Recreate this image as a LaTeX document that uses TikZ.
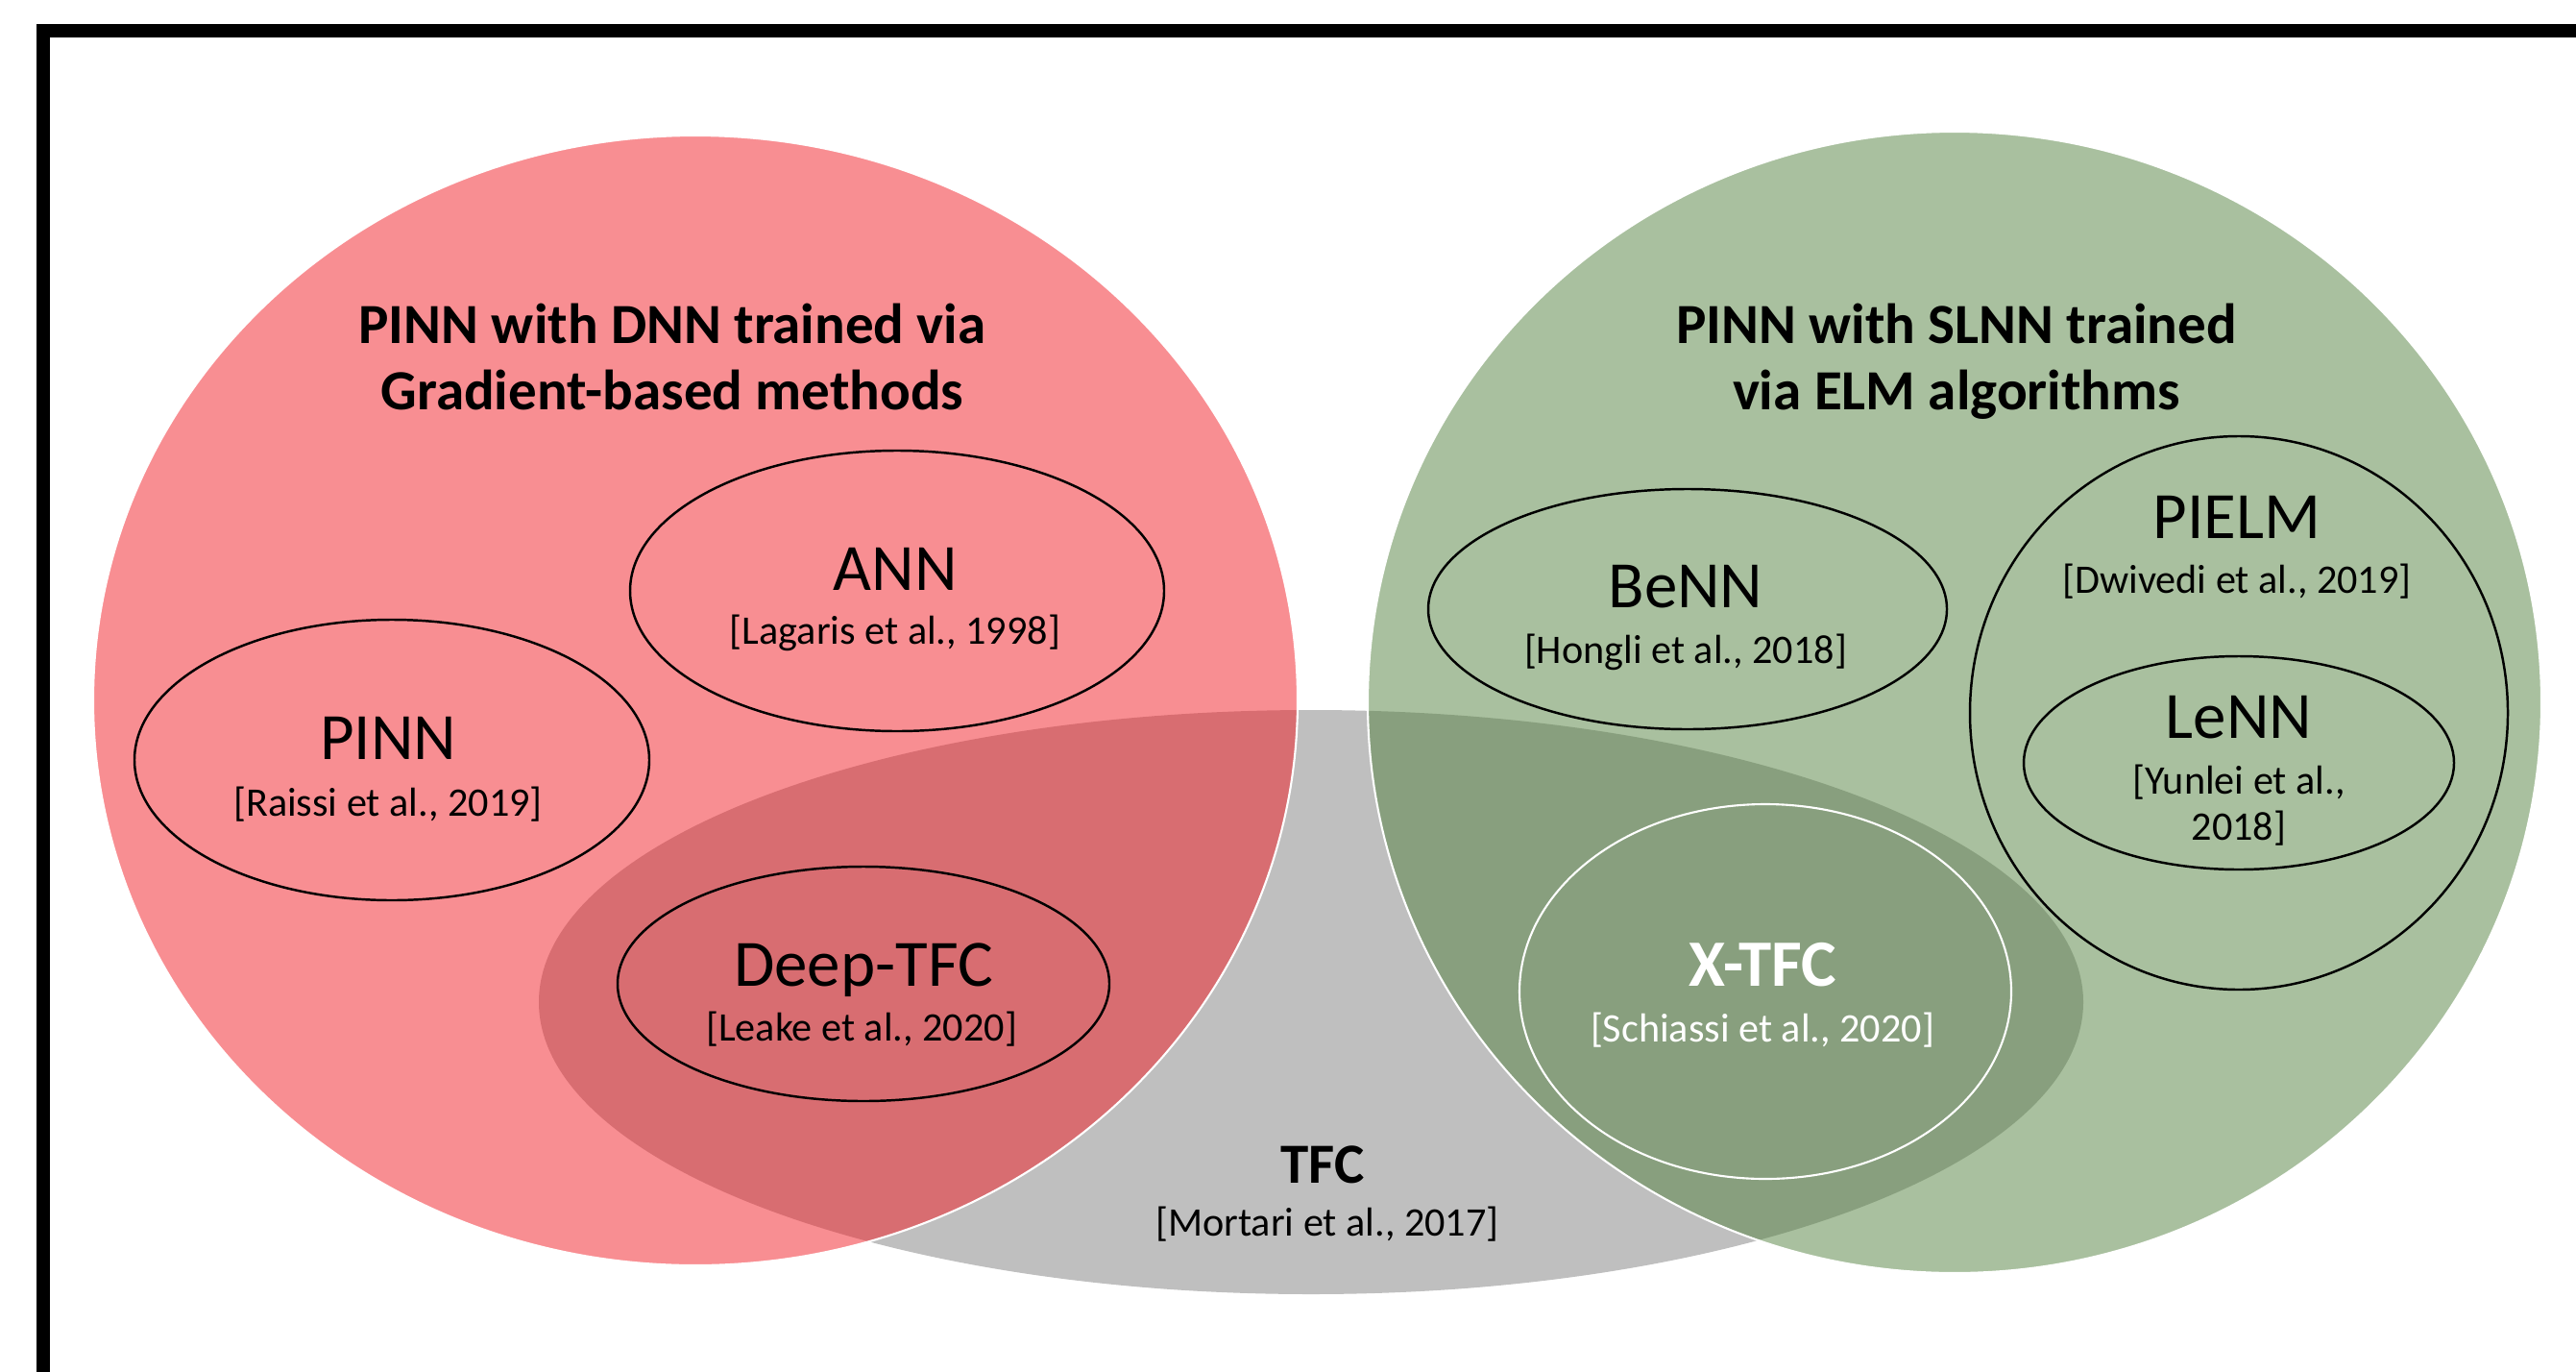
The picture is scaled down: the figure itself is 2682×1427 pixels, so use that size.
\documentclass[tikz,border=0pt]{standalone}
\usepackage{fontspec}
\setmainfont{Carlito}
\usetikzlibrary{positioning}

\definecolor{pinnred}{RGB}{241,29,37}
\definecolor{elmgreen}{RGB}{83,129,63}
\definecolor{tfcgray}{RGB}{191,191,191}

\begin{document}
\begin{tikzpicture}[x=0.01cm, y=-0.01cm,
    family/.style={fill opacity=0.5, draw=white, line width=0.6pt},
    method/.style={draw=black, line width=0.7pt},
    heading/.style={font=\fontsize{16.8}{19.6}\selectfont\bfseries, anchor=base, inner sep=0pt},
    label/.style={font=\fontsize{19.6}{23.5}\selectfont, anchor=base, inner sep=0pt},
    boldlabel/.style={label, font=\fontsize{19.6}{23.5}\selectfont\bfseries, text=white},
    cite/.style={font=\fontsize{12}{14}\selectfont, anchor=base, inner sep=0pt}]

  \useasboundingbox (0,0) rectangle (2682,1427);
  \clip (0,0) rectangle (2682,1427);

  % frame
  \draw[line width=0.14cm] (45,1500) -- (45,32) -- (2800,32);

  % the three families
  \fill[tfcgray] (1365,1043) ellipse [x radius=804, y radius=304];
  \draw[family, fill=pinnred] (724,729) ellipse [x radius=627, y radius=588];
  \draw[family, fill=elmgreen] (2035,731) ellipse [x radius=611, y radius=594];

  % single methods
  \draw[method] (934,615) ellipse [x radius=278, y radius=146];  % ANN
  \draw[method] (408,791) ellipse [x radius=268, y radius=146];  % PINN
  \draw[method] (899,1024) ellipse [x radius=256, y radius=122]; % Deep-TFC
  \draw[method] (1757,634) ellipse [x radius=270, y radius=125]; % BeNN
  \draw[method] (2331,742) ellipse [x radius=280, y radius=288]; % PIELM
  \draw[method] (2331,794) ellipse [x radius=224, y radius=111]; % LeNN
  \draw[method, draw=white, line width=0.6pt] (1838,1032) ellipse [x radius=256, y radius=195]; % X-TFC

  % headings
  \node[heading] (dnn1) at (700,357) {PINN with DNN trained via};
  \node[heading] (dnn2) at (700,426) {Gradient-based methods};
  \node[heading] (elm1) at (2037,357) {PINN with SLNN trained};
  \node[heading] (elm2) at (2037,426) {via ELM algorithms};

  % labels
  \node[label] (ann) at (932,614) {ANN};
  \node[cite] (annref) at (932,670) {[Lagaris et al., 1998]};
  \node[label] (pinn) at (404,790) {PINN};
  \node[cite] (pinnref) at (404,849) {[Raissi et al., 2019]};
  \node[label] (deeptfc) at (899,1026) {Deep-TFC};
  \node[cite] (deeptfcref) at (897,1083) {[Leake et al., 2020]};
  \node[label] (benn) at (1755,632) {BeNN};
  \node[cite] (bennref) at (1755,690) {[Hongli et al., 2018]};
  \node[label] (pielm) at (2329,560) {PIELM};
  \node[cite] (pielmref) at (2329,617) {[Dwivedi et al., 2019]};
  \node[label] (lenn) at (2331,768) {LeNN};
  \node[cite] (lennref1) at (2331,826) {[Yunlei et al.,};
  \node[cite] (lennref2) at (2331,874) {2018]};
  \node[boldlabel] (xtfc) at (1835,1026) {X-TFC};
  \node[cite, text=white] (xtfcref) at (1835,1084) {[Schiassi et al., 2020]};
  \node[heading] (tfc) at (1377,1231) {TFC};
  \node[cite] (tfcref) at (1382,1286) {[Mortari et al., 2017]};
\end{tikzpicture}
\end{document}
